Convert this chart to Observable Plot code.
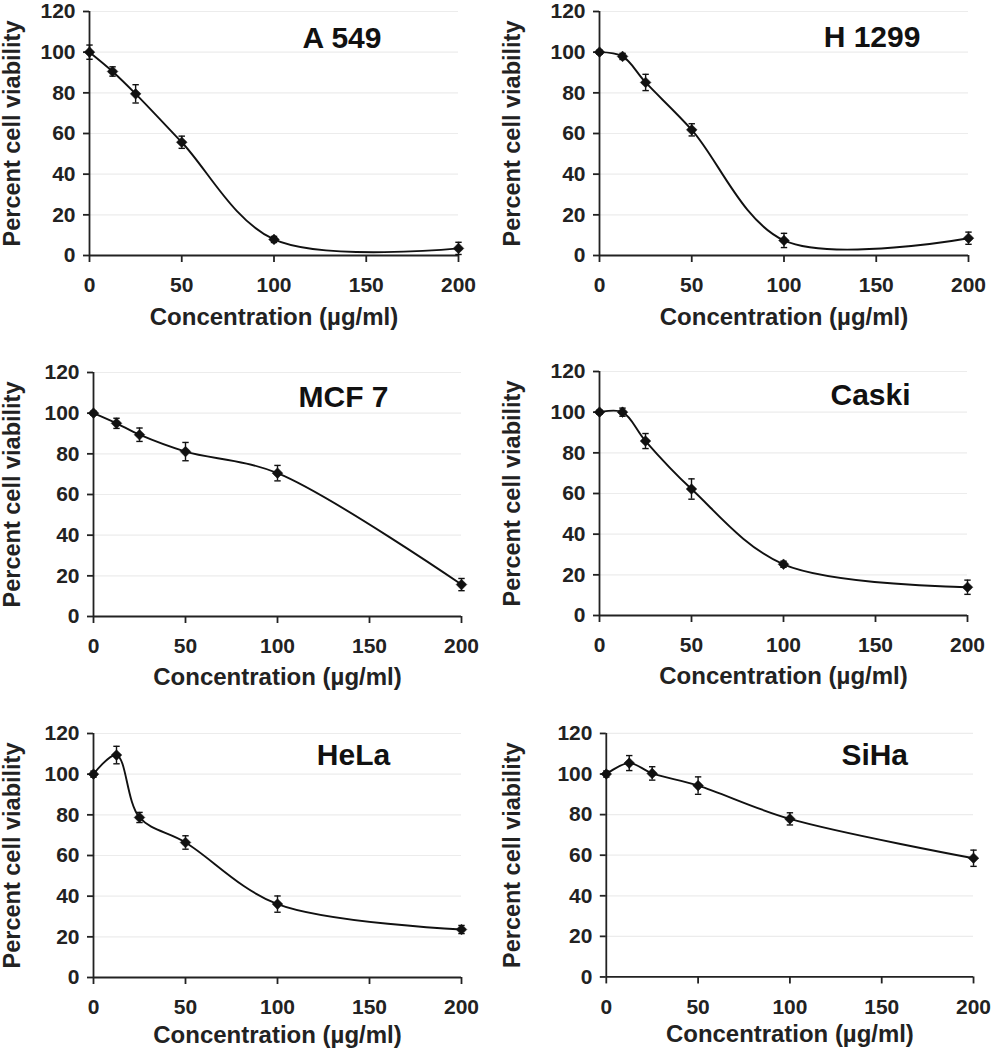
<!DOCTYPE html>
<html>
<head>
<meta charset="utf-8">
<script src="https://cdn.jsdelivr.net/npm/d3@7"></script>
<script src="https://cdn.jsdelivr.net/npm/@observablehq/plot@0.6"></script>
<style>
  body { margin: 0; background: #fff; }
  #wrap { position: relative; width: 993px; height: 1050px; background: #fff; overflow: hidden; }
  #wrap > div { position: absolute; }
</style>
</head>
<body>
<div id="wrap"></div>
<script>
// ---- data ----
const conc = [0, 12.5, 25, 50, 100, 200];
const xTicks = [0, 50, 100, 150, 200];
const yTicks = [0, 20, 40, 60, 80, 100, 120];
const xLabel = "Concentration (µg/ml)";
const yLabel = "Percent cell viability";

const cellLines = ["A 549", "H 1299", "MCF 7", "Caski", "HeLa", "SiHa"];

const a549 = [100, 90.5, 79.5, 55.7, 7.9, 3.5];
const a549Err = [3.5, 2.3, 4.5, 3, 1.5, 3];
const h1299 = [100, 97.9, 85.1, 61.8, 7.4, 8.5];
const h1299Err = [1, 1.5, 4, 3, 3.5, 3];
const mcf7 = [100, 95, 89.4, 81.1, 70.5, 15.7];
const mcf7Err = [1, 2.5, 3.3, 4.5, 3.8, 3];
const caski = [100, 100, 85.8, 62.2, 25.2, 13.9];
const caskiErr = [1, 2, 3.7, 5, 1.5, 3.5];
const hela = [100, 109.4, 78.7, 66.4, 36.1, 23.6];
const helaErr = [1.5, 4.3, 2.5, 3.3, 4, 2];
const siha = [100, 105.4, 100.3, 94.3, 77.9, 58.5];
const sihaErr = [1.5, 3.7, 3.3, 4.3, 3, 4];

const seriesValues = [a549, h1299, mcf7, caski, hela, siha];
const seriesErrors = [a549Err, h1299Err, mcf7Err, caskiErr, helaErr, sihaErr];

// ---- layout (positions only) ----
const layouts = [
  {left: 0,   top: 0,   ml: 89,  mt: 11, w: 369, tdx: 68,  tdy: 15, ldy: 52},
  {left: 500, top: 0,   ml: 99,  mt: 11, w: 369, tdx: 88,  tdy: 14, ldy: 52},
  {left: 0,   top: 350, ml: 93,  mt: 22, w: 368, tdx: 66,  tdy: 13, ldy: 51},
  {left: 500, top: 350, ml: 99,  mt: 21, w: 368, tdx: 87,  tdy: 12, ldy: 51},
  {left: 0,   top: 710, ml: 93,  mt: 23, w: 368, tdx: 76,  tdy: 10, ldy: 48},
  {left: 500, top: 710, ml: 106, mt: 23, w: 368, tdx: 85,  tdy: 10, ldy: 48}
];

const FONT = "'Liberation Sans', Arial, Helvetica, sans-serif";
const INK = "#111";
const capSymbol = {
  draw(context) { context.moveTo(-3.2, 0); context.lineTo(3.2, 0); }
};

function panel(name, vals, errs, L) {
  const rows = conc.map((x, i) => ({x, y: vals[i], e: errs[i]}));
  const H = 340, plotH = 244;
  const width = L.ml + L.w + 20;
  return Plot.plot({
    width, height: H,
    marginLeft: L.ml, marginTop: L.mt, marginRight: 20, marginBottom: H - L.mt - plotH,
    style: {fontFamily: FONT, background: "white", overflow: "visible"},
    x: {domain: [0, 200], ticks: xTicks},
    y: {domain: [0, 120], ticks: yTicks},
    marks: [
      Plot.ruleY(yTicks.filter(t => t > 0), {stroke: "#ececec", strokeWidth: 1.2}),
      Plot.axisY({ticks: yTicks, tickSize: 6, tickPadding: 8, fontSize: 21, fontWeight: "bold",
                  color: "#222", strokeWidth: 1.8, label: null}),
      Plot.axisX({ticks: xTicks, tickSize: 7, tickPadding: 15, fontSize: 21, fontWeight: "bold",
                  color: "#222", strokeWidth: 1.8, label: null}),
      Plot.ruleX([0], {stroke: "#222", strokeWidth: 1.8}),
      Plot.ruleY([0], {stroke: "#222", strokeWidth: 1.8}),
      Plot.ruleX(rows, {x: "x", y1: d => d.y - d.e, y2: d => d.y + d.e, stroke: INK, strokeWidth: 1.4}),
      Plot.dot(rows, {x: "x", y: d => d.y + d.e, symbol: capSymbol, fill: "none", stroke: INK, strokeWidth: 1.4}),
      Plot.dot(rows, {x: "x", y: d => d.y - d.e, symbol: capSymbol, fill: "none", stroke: INK, strokeWidth: 1.4}),
      Plot.line(rows, {x: "x", y: "y", curve: "catmull-rom", stroke: INK, strokeWidth: 1.9}),
      Plot.dot(rows, {x: "x", y: "y", symbol: "diamond2", r: 4.8, fill: INK, stroke: INK, strokeWidth: 0.5}),
      Plot.text([name], {text: d => d, frameAnchor: "top", lineAnchor: "top", dx: L.tdx, dy: L.tdy,
                         fontSize: 30, fontWeight: "bold", fill: "#111"}),
      Plot.text([xLabel], {text: d => d, frameAnchor: "bottom", textAnchor: "middle", lineAnchor: "top", dy: L.ldy,
                           fontSize: 24, fontWeight: "bold", fill: "#222"}),
      Plot.text([yLabel], {text: d => d, frameAnchor: "left", textAnchor: "middle", lineAnchor: "middle",
                           rotate: -90, dx: -(L.ml - 12),
                           fontSize: 23.5, fontWeight: "bold", fill: "#222"})
    ]
  });
}

const wrap = document.getElementById("wrap");
cellLines.forEach((name, i) => {
  const L = layouts[i];
  const div = document.createElement("div");
  div.style.left = L.left + "px";
  div.style.top = L.top + "px";
  div.appendChild(panel(name, seriesValues[i], seriesErrors[i], L));
  wrap.appendChild(div);
});
</script>
</body>
</html>
